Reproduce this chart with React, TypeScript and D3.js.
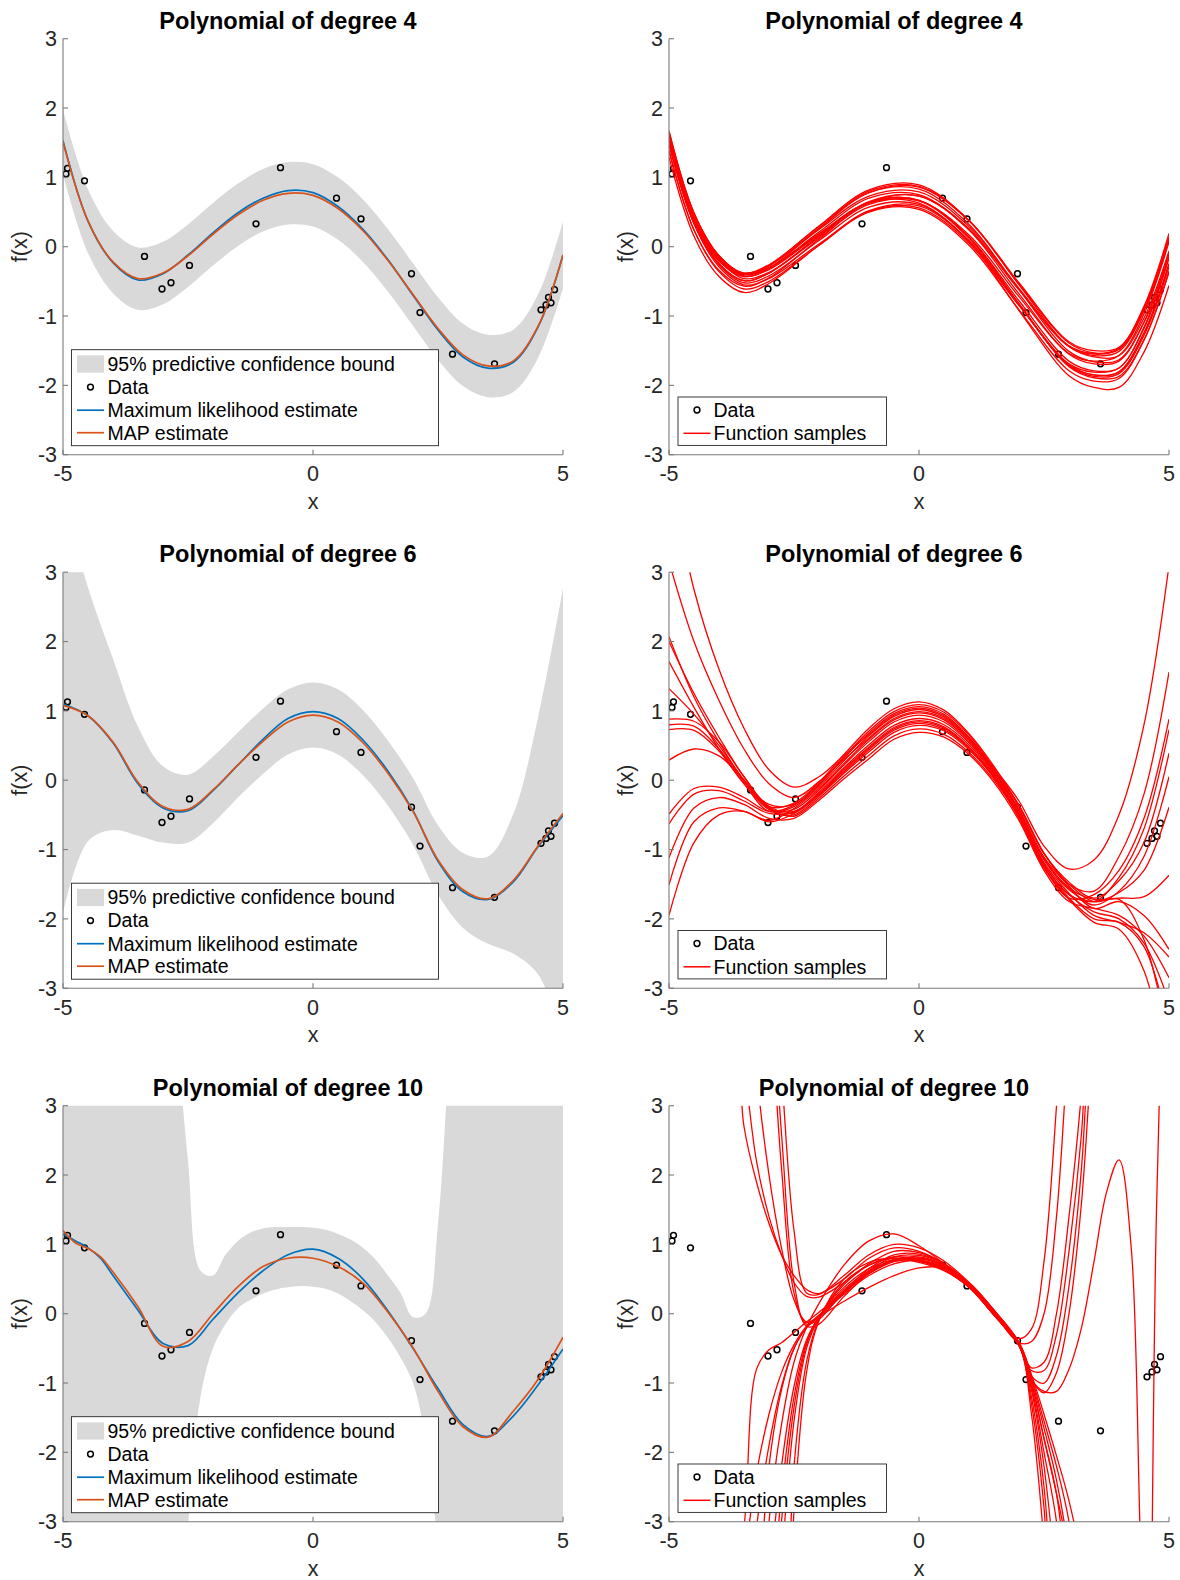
import React from "react";
import * as d3 from "d3";

const FONT = '"Liberation Sans", Arial, Helvetica, sans-serif';
const AXC = "#262626";
const AXLINE = "#7a7a7a";
const BAND = "#d9d9d9";
const MLE_C = "#0072BD";
const MAP_C = "#D95319";
const SAMPLE_C = "#FF0000";

// ---------------- data ----------------
const dataX = [-4.94, -4.91, -4.57, -3.37, -3.02, -2.84, -2.47, -1.14, -0.65, 0.47, 0.96, 1.97, 2.14, 2.79, 3.63, 4.56, 4.66, 4.71, 4.76, 4.83];
const dataY = [1.05, 1.13, 0.95, -0.14, -0.61, -0.52, -0.27, 0.33, 1.14, 0.70, 0.40, -0.39, -0.95, -1.55, -1.69, -0.91, -0.84, -0.73, -0.81, -0.62];

const grid21 = [-5, -4.5, -4, -3.5, -3, -2.5, -2, -1.5, -1, -0.5, 0, 0.5, 1, 1.5, 2, 2.5, 3, 3.5, 4, 4.5, 5];

// degree 4
const deg4MAP = [1.51, 0.37, -0.22, -0.46, -0.38, -0.13, 0.18, 0.46, 0.67, 0.77, 0.74, 0.55, 0.23, -0.20, -0.69, -1.18, -1.56, -1.72, -1.65, -1.15, -0.12];
const deg4MLE = [1.53, 0.37, -0.23, -0.48, -0.39, -0.12, 0.20, 0.49, 0.70, 0.81, 0.78, 0.58, 0.25, -0.19, -0.70, -1.20, -1.59, -1.75, -1.67, -1.16, -0.12];
const deg4Upper = [1.98, 0.83, 0.23, -0.01, 0.07, 0.32, 0.63, 0.91, 1.12, 1.22, 1.19, 1.00, 0.68, 0.25, -0.24, -0.73, -1.11, -1.27, -1.20, -0.69, 0.36];
const deg4Lower = [1.04, -0.09, -0.67, -0.91, -0.83, -0.58, -0.27, 0.01, 0.22, 0.32, 0.29, 0.10, -0.22, -0.65, -1.14, -1.63, -2.01, -2.17, -2.10, -1.61, -0.60];

// degree 6
const deg6MAP = [1.08, 0.93, 0.55, -0.03, -0.38, -0.42, -0.14, 0.22, 0.56, 0.84, 0.94, 0.84, 0.54, 0.10, -0.45, -1.15, -1.58, -1.71, -1.45, -0.95, -0.48];
const deg6MLE = [1.10, 0.93, 0.54, -0.05, -0.40, -0.44, -0.15, 0.22, 0.59, 0.89, 0.99, 0.89, 0.58, 0.13, -0.44, -1.17, -1.61, -1.72, -1.47, -0.96, -0.51];
const deg6Upper = [4.08, 2.78, 1.75, 0.77, 0.20, 0.08, 0.34, 0.69, 1.03, 1.31, 1.41, 1.31, 1.01, 0.57, 0.03, -0.65, -1.05, -1.10, -0.50, 0.90, 2.77];
const deg6Lower = [-1.92, -0.88, -0.72, -0.80, -0.90, -0.90, -0.62, -0.25, 0.09, 0.37, 0.47, 0.37, 0.07, -0.37, -0.93, -1.65, -2.13, -2.36, -2.50, -2.80, -3.73];

// degree 10
const grid23 = [-5, -4.75, -4.5, -4.25, -4, -3.5, -3, -2.5, -2, -1.5, -1, -0.5, 0, 0.5, 1, 1.5, 2, 2.5, 3, 3.5, 4, 4.5, 5];
const deg10MAP = [1.20, 1.02, 0.94, 0.82, 0.60, 0.10, -0.47, -0.40, 0.0, 0.39, 0.68, 0.80, 0.80, 0.68, 0.44, 0.02, -0.49, -1.12, -1.63, -1.78, -1.41, -0.95, -0.34];
const deg10MLE = [1.15, 1.05, 0.95, 0.80, 0.55, 0.05, -0.43, -0.46, -0.08, 0.30, 0.62, 0.85, 0.93, 0.80, 0.50, 0.04, -0.50, -1.08, -1.60, -1.77, -1.48, -1.03, -0.51];
const grid41 = [-5, -4.75, -4.5, -4.25, -4, -3.75, -3.5, -3.25, -3, -2.75, -2.5, -2.25, -2, -1.75, -1.5, -1.25, -1, -0.75, -0.5, -0.25, 0, 0.25, 0.5, 0.75, 1, 1.25, 1.5, 1.75, 2, 2.25, 2.5, 2.75, 3, 3.25, 3.5, 3.75, 4, 4.25, 4.5, 4.75, 5];
const deg10Upper = [8, 8, 8, 8, 8, 8, 8, 7.5, 6, 4.2, 2.2, 0.62, 0.55, 0.85, 1.05, 1.17, 1.23, 1.25, 1.25, 1.25, 1.24, 1.21, 1.15, 1.07, 0.95, 0.78, 0.55, 0.30, -0.05, 0.0, 1.3, 4.0, 6, 7.5, 8, 8, 8, 8, 8, 8, 8];
const deg10Lower = [-8, -8, -8, -8, -8, -8, -8, -8, -8, -8, -3.1, -1.2, -0.5, -0.15, 0.08, 0.20, 0.29, 0.35, 0.38, 0.40, 0.39, 0.36, 0.29, 0.18, 0.05, -0.12, -0.35, -0.63, -1.0, -1.8, -3.4, -6, -8, -8, -8, -8, -8, -8, -8, -8, -8];

// function samples, degree 4
const grid15 = [-5, -4.5, -4, -3.5, -3, -2, -1, 0, 1, 2, 3, 3.5, 4, 4.5, 5];
const deg4Samples = [
  [1.55, 0.40, -0.19, -0.43, -0.32, 0.21, 0.70, 0.75, 0.24, -0.68, -1.55, -1.69, -1.65, -1.09, -0.09],
  [1.64, 0.48, -0.13, -0.38, -0.27, 0.25, 0.73, 0.79, 0.29, -0.60, -1.44, -1.57, -1.51, -0.92, 0.10],
  [1.51, 0.34, -0.26, -0.52, -0.42, 0.09, 0.57, 0.61, 0.09, -0.84, -1.71, -1.85, -1.80, -1.24, -0.24],
  [1.49, 0.37, -0.19, -0.40, -0.27, 0.30, 0.82, 0.89, 0.38, -0.55, -1.44, -1.59, -1.57, -1.03, -0.06],
  [1.29, 0.15, -0.43, -0.66, -0.53, 0.02, 0.52, 0.59, 0.08, -0.83, -1.70, -1.85, -1.81, -1.25, -0.26],
  [1.52, 0.36, -0.24, -0.49, -0.38, 0.15, 0.65, 0.73, 0.25, -0.62, -1.43, -1.54, -1.46, -0.86, 0.19],
  [1.66, 0.48, -0.13, -0.40, -0.31, 0.18, 0.64, 0.66, 0.12, -0.83, -1.72, -1.87, -1.83, -1.28, -0.29],
  [1.53, 0.40, -0.17, -0.40, -0.28, 0.27, 0.78, 0.83, 0.32, -0.62, -1.51, -1.66, -1.63, -1.09, -0.11],
  [1.51, 0.33, -0.29, -0.55, -0.46, 0.04, 0.51, 0.56, 0.05, -0.85, -1.69, -1.81, -1.75, -1.16, -0.14],
  [1.49, 0.36, -0.21, -0.43, -0.31, 0.26, 0.78, 0.86, 0.37, -0.54, -1.39, -1.53, -1.48, -0.92, 0.09],
  [1.47, 0.33, -0.25, -0.49, -0.38, 0.15, 0.64, 0.67, 0.14, -0.82, -1.73, -1.89, -1.87, -1.34, -0.37],
  [1.38, 0.24, -0.34, -0.57, -0.45, 0.11, 0.64, 0.73, 0.26, -0.62, -1.44, -1.55, -1.48, -0.89, 0.14],
  [1.67, 0.49, -0.13, -0.39, -0.30, 0.19, 0.64, 0.67, 0.14, -0.78, -1.65, -1.79, -1.75, -1.18, -0.17],
  [1.57, 0.43, -0.15, -0.38, -0.26, 0.29, 0.80, 0.87, 0.38, -0.52, -1.37, -1.50, -1.45, -0.88, 0.13],
  [1.39, 0.24, -0.36, -0.61, -0.50, 0.02, 0.50, 0.54, 0.02, -0.91, -1.79, -1.94, -1.90, -1.35, -0.35],
  [1.61, 0.43, -0.19, -0.46, -0.37, 0.13, 0.61, 0.66, 0.17, -0.72, -1.54, -1.65, -1.57, -0.97, 0.07],
  [1.58, 0.42, -0.17, -0.42, -0.33, 0.17, 0.63, 0.63, 0.07, -0.92, -1.86, -2.03, -2.03, -1.52, -0.56],
];

// function samples, degree 6 (on grid21)
const deg6Samples = [
  [3.15, 2.0, 1.15, 0.45, -0.05, -0.25, -0.02, 0.30, 0.61, 0.89, 0.99, 0.89, 0.58, 0.13, -0.43, -1.13, -1.55, -1.72, -1.70, -1.68, -1.37],
  [4.5, 2.75, 1.6, 0.75, 0.15, -0.10, 0.05, 0.36, 0.66, 0.94, 1.04, 0.93, 0.61, 0.15, -0.36, -1.05, -1.50, -1.60, -1.10, -0.20, 1.56],
  [2.07, 1.2, 0.55, 0.0, -0.35, -0.35, -0.05, 0.34, 0.71, 0.99, 1.09, 0.98, 0.65, 0.18, -0.30, -0.95, -1.28, -1.15, -0.50, 0.80, 3.1],
  [2.00, 1.25, 0.62, 0.05, -0.38, -0.45, -0.17, 0.18, 0.51, 0.79, 0.89, 0.80, 0.51, 0.08, -0.50, -1.22, -1.65, -1.9, -2.0, -2.35, -3.2],
  [1.71, 1.05, 0.45, -0.05, -0.42, -0.42, -0.14, 0.22, 0.56, 0.84, 0.94, 0.84, 0.54, 0.10, -0.45, -1.15, -1.58, -1.75, -1.40, -0.70, 0.73],
  [1.32, 0.95, 0.50, 0.0, -0.40, -0.47, -0.20, 0.14, 0.46, 0.74, 0.84, 0.75, 0.47, 0.05, -0.52, -1.25, -1.70, -2.0, -2.05, -2.4, -3.6],
  [0.88, 0.85, 0.55, 0.05, -0.38, -0.33, -0.03, 0.37, 0.75, 1.03, 1.13, 1.01, 0.67, 0.20, -0.37, -1.06, -1.47, -1.70, -1.45, -0.90, 0.39],
  [0.80, 0.78, 0.45, -0.02, -0.42, -0.50, -0.23, 0.10, 0.41, 0.69, 0.79, 0.71, 0.44, 0.03, -0.55, -1.27, -1.72, -2.05, -2.15, -2.75, -4.3],
  [0.73, 0.72, 0.42, -0.05, -0.45, -0.38, -0.09, 0.28, 0.64, 0.92, 1.02, 0.91, 0.60, 0.14, -0.42, -1.11, -1.53, -1.85, -1.75, -1.95, -2.44],
  [0.29, 0.45, 0.35, 0.0, -0.40, -0.52, -0.26, 0.06, 0.36, 0.64, 0.74, 0.66, 0.40, 0.0, -0.53, -1.25, -1.70, -1.65, -1.30, -0.55, 0.88],
  [-0.49, -0.12, -0.10, -0.25, -0.45, -0.36, -0.07, 0.32, 0.68, 0.96, 1.06, 0.95, 0.62, 0.16, -0.38, -1.06, -1.50, -1.75, -1.72, -2.3, -3.8],
  [-0.63, -0.2, -0.15, -0.30, -0.48, -0.46, -0.19, 0.16, 0.48, 0.76, 0.86, 0.77, 0.48, 0.06, -0.48, -1.19, -1.63, -1.95, -2.05, -2.2, -2.55],
  [-1.12, -0.40, -0.25, -0.35, -0.55, -0.55, -0.29, 0.02, 0.31, 0.59, 0.69, 0.62, 0.37, -0.03, -0.58, -1.30, -1.75, -1.85, -1.95, -2.25, -2.85],
  [-1.51, -0.6, -0.40, -0.45, -0.58, -0.41, -0.12, 0.24, 0.59, 0.87, 0.97, 0.87, 0.56, 0.12, -0.44, -1.14, -1.56, -1.80, -1.60, -1.10, 0.05],
  [-1.95, -0.9, -0.50, -0.45, -0.60, -0.48, -0.21, 0.12, 0.44, 0.72, 0.82, 0.73, 0.46, 0.04, -0.50, -1.21, -1.65, -1.75, -1.62, -1.30, -0.39],
];

// function samples, degree 10
const grid29 = [-5, -4, -3.5, -3.25, -3, -2.75, -2.5, -2.25, -2, -1.5, -1, -0.5, 0, 0.5, 1, 1.5, 2, 2.25, 2.5, 2.75, 3, 3.25, 3.5, 3.75, 4, 4.25, 4.5, 4.75, 5];
const deg10Samples = [
  [6, 6, 2.7, 1.9, 1.3, 0.85, 0.55, 0.35, 0.29, 0.50, 0.80, 0.95, 0.90, 0.72, 0.42, 0.02, -0.36, -0.22, 0.75, 3.0, 6, 6, 6, 6, 6, 6, 6, 6, 6],
  [6, 6, 3.6, 2.2, 1.4, 0.85, 0.45, 0.25, 0.24, 0.45, 0.72, 0.90, 0.88, 0.72, 0.42, 0.02, -0.43, -1.1, -2.2, -3.9, -6, -6, -6, -6, -6, -6, -6, -6, -6],
  [6, 6, 6, 3.5, 2.0, 0.95, 0.20, -0.12, -0.05, 0.30, 0.62, 0.82, 0.84, 0.72, 0.44, 0.05, -0.45, -0.78, -0.70, 0.0, 1.4, 3.2, 6, 6, 6, 6, 6, 6, 6],
  [6, 6, 6, 6, 4.6, 2.1, 0.30, -0.15, -0.08, 0.32, 0.65, 0.85, 0.86, 0.72, 0.43, 0.02, -0.44, -1.3, -2.8, -5.5, -6, -6, -6, -6, -6, -6, -6, -6, -6],
  [6, 6, 6, 6, 5.0, 2.6, 0.45, -0.18, -0.15, 0.25, 0.58, 0.78, 0.82, 0.70, 0.40, -0.02, -0.46, -0.95, -1.14, -0.85, 0.0, 1.6, 4.2, 6, 6, 6, 6, 6, 6],
  [6, 6, 6, 6, 6, 3.5, 1.2, 0.30, 0.28, 0.55, 0.85, 1.00, 0.95, 0.76, 0.45, 0.05, -0.42, -0.95, -1.65, -2.4, -3.5, -6, -6, -6, -6, -6, -6, -6, -6],
  [-6, -6, -3.1, -0.80, -0.52, -0.42, -0.27, -0.12, 0.02, 0.32, 0.58, 0.75, 0.79, 0.70, 0.42, 0.0, -0.43, -1.05, -2.0, -3.0, -5, -6, -6, -6, -6, -6, -6, -6, -6],
  [-6, -6, -3.6, -2.3, -1.45, -0.85, -0.45, -0.18, -0.02, 0.30, 0.58, 0.76, 0.80, 0.70, 0.42, 0.0, -0.42, -0.40, 0.0, 1.4, 4.0, 6, 6, 6, 6, 6, 6, 6, 6],
  [-6, -6, -6, -3.1, -1.9, -1.05, -0.5, -0.2, -0.03, 0.28, 0.55, 0.72, 0.77, 0.68, 0.40, -0.02, -0.45, -1.45, -3.3, -6, -6, -6, -6, -6, -6, -6, -6, -6, -6],
  [-6, -6, -6, -6, -3.9, -2.2, -1.05, -0.38, -0.05, 0.32, 0.60, 0.78, 0.80, 0.69, 0.41, -0.01, -0.46, -0.95, -1.12, -1.12, -0.80, -0.20, 0.75, 1.75, 2.22, 0.9, -4.5, -6, -6],
  [-6, -6, -6, -6, -4.6, -2.6, -1.2, -0.42, -0.05, 0.35, 0.62, 0.76, 0.76, 0.66, 0.40, 0.0, -0.44, -1.2, -2.5, -4.8, -6, -6, -6, -6, -6, -6, -6, -6, -6],
  [-6, -6, -6, -6, -5.5, -3.0, -1.35, -0.45, -0.04, 0.38, 0.65, 0.78, 0.76, 0.64, 0.38, -0.02, -0.45, -0.82, -0.82, -0.3, 0.9, 2.6, 5.5, 6, 6, 6, 6, 6, 6],
  [-6, -6, -6, -6, -6, -3.6, -1.55, -0.50, -0.06, 0.42, 0.70, 0.82, 0.78, 0.66, 0.40, 0.0, -0.42, -1.0, -1.8, -2.6, -4.2, -6, -6, -6, -6, -6, -6, -6, -6],
  [-6, -6, -6, -6, -6, -5.5, -2.2, -0.70, -0.08, 0.45, 0.70, 0.80, 0.76, 0.63, 0.38, -0.02, -0.46, -1.0, -1.8, -2.6, -3.5, -5, -6, -6, -6, -6, -8, 1.5, 8],
  [-6, -6, -6, -6, -6, -6, -2.85, -0.85, -0.10, 0.50, 0.74, 0.80, 0.74, 0.62, 0.38, 0.0, -0.45, -0.90, -1.0, -0.6, 0.4, 2.1, 5.0, 6, 6, 6, 6, 6, 6],
  [-6, -6, -6, -6, -3.0, -1.6, -0.7, -0.2, 0.15, 0.70, 1.05, 1.15, 0.98, 0.72, 0.40, -0.02, -0.42, -0.92, -1.55, -2.2, -3.0, -4.5, -6, -6, -6, -6, -6, -6, -6],
  [-6, -6, -6, -4.5, -2.2, -1.1, -0.5, -0.2, -0.05, 0.18, 0.38, 0.55, 0.66, 0.66, 0.45, 0.05, -0.41, -0.88, -1.45, -2.05, -2.7, -3.6, -6, -6, -6, -6, -6, -6, -6],
];

const yTicks = [-3, -2, -1, 0, 1, 2, 3];
const xTicks = [-5, 0, 5];

// ---------------- layout ----------------
const PW = 500;
const PH = 416;
const colX = [63, 669];
const rowBottom = [454.7, 988.2, 1521.7];

type Sc = d3.ScaleLinear<number, number>;

function makeScales(x0: number, bottom: number) {
  const xs = d3.scaleLinear().domain([-5, 5]).range([x0, x0 + PW]);
  const ys = d3.scaleLinear().domain([-3, 3]).range([bottom, bottom - PH]);
  return { xs, ys };
}

function linePath(xs: Sc, ys: Sc, grid: number[], vals: number[]) {
  return d3
    .line<number>()
    .x((_, i) => xs(grid[i]))
    .y((v) => ys(v))
    .curve(d3.curveCatmullRom.alpha(0.5))(vals) as string;
}

function bandPath(xs: Sc, ys: Sc, grid: number[], upper: number[], lower: number[]) {
  return d3
    .area<number>()
    .x((_, i) => xs(grid[i]))
    .y1((v) => ys(v))
    .y0((_, i) => ys(lower[i]))
    .curve(d3.curveCatmullRom.alpha(0.5))(upper) as string;
}

function Frame({ x0, bottom, title, clipId, children, legend }: any) {
  const { xs, ys } = makeScales(x0, bottom);
  const top = bottom - PH;
  return (
    <g>
      <defs>
        <clipPath id={clipId}>
          <rect x={x0} y={top} width={PW} height={PH} />
        </clipPath>
      </defs>
      <g clipPath={`url(#${clipId})`}>{children(xs, ys)}</g>
      <line x1={x0} y1={top} x2={x0} y2={bottom} stroke={AXLINE} strokeWidth={1.1} />
      <line x1={x0} y1={bottom} x2={x0 + PW} y2={bottom} stroke={AXLINE} strokeWidth={1.1} />
      {yTicks.map((t) => (
        <g key={"y" + t}>
          <line x1={x0} x2={x0 + 5} y1={ys(t)} y2={ys(t)} stroke={AXLINE} strokeWidth={1.1} />
          <text x={x0 - 6} y={ys(t)} dy="0.36em" textAnchor="end" fontSize={21.5} fill={AXC}>
            {String(t)}
          </text>
        </g>
      ))}
      {xTicks.map((t) => (
        <g key={"x" + t}>
          <line x1={xs(t)} x2={xs(t)} y1={bottom} y2={bottom - 5} stroke={AXLINE} strokeWidth={1.1} />
          <text x={xs(t)} y={bottom + 26.5} textAnchor="middle" fontSize={21.5} fill={AXC}>
            {String(t)}
          </text>
        </g>
      ))}
      <text x={x0 + PW / 2} y={bottom + 54} textAnchor="middle" fontSize={21.5} fill={AXC}>
        x
      </text>
      <text
        transform={`translate(${x0 - 36.5},${bottom - PH / 2}) rotate(-90)`}
        textAnchor="middle"
        fontSize={21.5}
        fill={AXC}
      >
        f(x)
      </text>
      <text x={x0 + 225} y={top - 10} textAnchor="middle" fontSize={23.5} fontWeight="bold" fill="#000">
        {title}
      </text>
      {legend}
    </g>
  );
}

function DataPoints({ xs, ys }: { xs: Sc; ys: Sc }) {
  return (
    <g>
      {dataX.map((x, i) => (
        <circle key={i} cx={xs(x)} cy={ys(dataY[i])} r={2.9} fill="none" stroke="#000" strokeWidth={1.5} />
      ))}
    </g>
  );
}

function FitLegend({ x0, bottom }: { x0: number; bottom: number }) {
  const lx = x0 + 8.5;
  const ly = bottom - 105;
  const rows = [ly + 14.3, ly + 37.4, ly + 60.5, ly + 83];
  const ix1 = lx + 5.5;
  const ix2 = lx + 32.5;
  const tx = lx + 36;
  const fs = 19.5;
  return (
    <g>
      <rect x={lx} y={ly} width={367} height={96} fill="#fff" stroke={AXC} strokeWidth={0.9} />
      <rect x={ix1} y={rows[0] - 8.6} width={ix2 - ix1} height={17.2} fill={BAND} />
      <text x={tx} y={rows[0]} dy="0.35em" fontSize={fs} fill="#000">95% predictive confidence bound</text>
      <circle cx={(ix1 + ix2) / 2} cy={rows[1]} r={2.9} fill="none" stroke="#000" strokeWidth={1.5} />
      <text x={tx} y={rows[1]} dy="0.35em" fontSize={fs} fill="#000">Data</text>
      <line x1={ix1} x2={ix2} y1={rows[2]} y2={rows[2]} stroke={MLE_C} strokeWidth={1.7} />
      <text x={tx} y={rows[2]} dy="0.35em" fontSize={fs} fill="#000">Maximum likelihood estimate</text>
      <line x1={ix1} x2={ix2} y1={rows[3]} y2={rows[3]} stroke={MAP_C} strokeWidth={1.7} />
      <text x={tx} y={rows[3]} dy="0.35em" fontSize={fs} fill="#000">MAP estimate</text>
    </g>
  );
}

function SampleLegend({ x0, bottom }: { x0: number; bottom: number }) {
  const lx = x0 + 9;
  const ly = bottom - 57.7;
  const rows = [ly + 13, ly + 36.3];
  const ix1 = lx + 5.5;
  const ix2 = lx + 32.5;
  const tx = lx + 35.5;
  const fs = 19.5;
  return (
    <g>
      <rect x={lx} y={ly} width={208.5} height={48.4} fill="#fff" stroke={AXC} strokeWidth={0.9} />
      <circle cx={(ix1 + ix2) / 2} cy={rows[0]} r={2.9} fill="none" stroke="#000" strokeWidth={1.5} />
      <text x={tx} y={rows[0]} dy="0.35em" fontSize={fs} fill="#000">Data</text>
      <line x1={ix1} x2={ix2} y1={rows[1]} y2={rows[1]} stroke={SAMPLE_C} strokeWidth={1.5} />
      <text x={tx} y={rows[1]} dy="0.35em" fontSize={fs} fill="#000">Function samples</text>
    </g>
  );
}

function FitPanel({ x0, bottom, title, clipId, bandGrid, upper, lower, meanGrid, mle, map }: any) {
  return (
    <Frame x0={x0} bottom={bottom} title={title} clipId={clipId} legend={<FitLegend x0={x0} bottom={bottom} />}>
      {(xs: Sc, ys: Sc) => (
        <g>
          <path d={bandPath(xs, ys, bandGrid, upper, lower)} fill={BAND} stroke="none" />
          <DataPoints xs={xs} ys={ys} />
          <path d={linePath(xs, ys, meanGrid, mle)} fill="none" stroke={MLE_C} strokeWidth={1.7} />
          <path d={linePath(xs, ys, meanGrid, map)} fill="none" stroke={MAP_C} strokeWidth={1.7} />
        </g>
      )}
    </Frame>
  );
}

function SamplePanel({ x0, bottom, title, clipId, grid, samples }: any) {
  return (
    <Frame x0={x0} bottom={bottom} title={title} clipId={clipId} legend={<SampleLegend x0={x0} bottom={bottom} />}>
      {(xs: Sc, ys: Sc) => (
        <g>
          <DataPoints xs={xs} ys={ys} />
          {samples.map((s: number[], i: number) => (
            <path key={i} d={linePath(xs, ys, grid, s)} fill="none" stroke={SAMPLE_C} strokeWidth={1.3} />
          ))}
        </g>
      )}
    </Frame>
  );
}

export default function App() {
  return (
    <svg
      width={1180}
      height={1580}
      style={{ position: "absolute", left: 0, top: 0, background: "#fff" }}
      fontFamily={FONT}
    >
      <rect x={0} y={0} width={1180} height={1580} fill="#fff" />
      <FitPanel
        x0={colX[0]} bottom={rowBottom[0]} title="Polynomial of degree 4" clipId="c0"
        bandGrid={grid21} upper={deg4Upper} lower={deg4Lower} meanGrid={grid21} mle={deg4MLE} map={deg4MAP}
      />
      <SamplePanel x0={colX[1]} bottom={rowBottom[0]} title="Polynomial of degree 4" clipId="c1" grid={grid15} samples={deg4Samples} />
      <FitPanel
        x0={colX[0]} bottom={rowBottom[1]} title="Polynomial of degree 6" clipId="c2"
        bandGrid={grid21} upper={deg6Upper} lower={deg6Lower} meanGrid={grid21} mle={deg6MLE} map={deg6MAP}
      />
      <SamplePanel x0={colX[1]} bottom={rowBottom[1]} title="Polynomial of degree 6" clipId="c3" grid={grid21} samples={deg6Samples} />
      <FitPanel
        x0={colX[0]} bottom={rowBottom[2]} title="Polynomial of degree 10" clipId="c4"
        bandGrid={grid41} upper={deg10Upper} lower={deg10Lower} meanGrid={grid23} mle={deg10MLE} map={deg10MAP}
      />
      <SamplePanel x0={colX[1]} bottom={rowBottom[2]} title="Polynomial of degree 10" clipId="c5" grid={grid29} samples={deg10Samples} />
    </svg>
  );
}
